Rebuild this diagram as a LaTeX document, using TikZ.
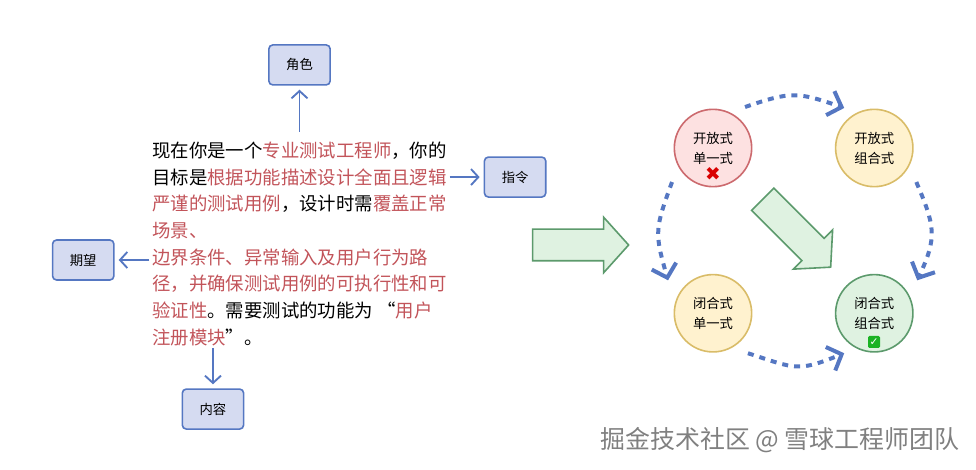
\documentclass[tikz,border=0pt]{standalone}
\usepackage{fontspec}
\usepackage{xcolor}
\setmainfont{Noto Sans CJK SC}
\newfontfamily\symfont{DejaVu Sans}
\usetikzlibrary{shapes.arrows, arrows.meta, positioning}
\definecolor{linkblue}{HTML}{5577C2}
\definecolor{boxfill}{HTML}{D5DBF1}
\definecolor{hotred}{HTML}{C2545A}
\definecolor{redline}{HTML}{CC6A6E}
\definecolor{redfill}{HTML}{FDE1E1}
\definecolor{yelline}{HTML}{D9BC68}
\definecolor{yelfill}{HTML}{FFF2CF}
\definecolor{grnline}{HTML}{5C9A6C}
\definecolor{grnfill}{HTML}{DFF2E1}
\definecolor{tickgreen}{HTML}{1BB324}

\begin{document}
\begin{tikzpicture}[
    x=0.75pt, y=-0.75pt,
    tagbox/.style={rectangle, draw=linkblue, fill=boxfill, line width=1.2pt, rounded corners=3pt, minimum width=46pt, minimum height=30pt, font=\fontsize{10}{12}\selectfont},
    mode/.style={circle, draw, line width=1.2pt, minimum size=58pt, inner sep=0pt, align=center, font=\fontsize{10}{15}\selectfont},
    lnk/.style={draw=linkblue, line width=1.4pt, -{Straight Barb[length=5.5pt,width=12pt,line width=1.4pt]}},
    dashlnk/.style={draw=linkblue, line width=3pt, dash pattern=on 4.5pt off 4.5pt, -{Straight Barb[length=9pt,width=19pt,line width=3pt]}},
    bigarr/.style={single arrow, draw=grnline, fill=grnfill, line width=1.2pt, inner sep=0pt, minimum height=72pt, minimum width=40pt, single arrow head extend=9pt, single arrow tip angle=96, text height=22.5pt, text depth=0pt, text width=0pt}
]
\useasboundingbox (0,0) rectangle (976,470);

% Prompt text
\node[align=left, inner xsep=2pt, inner ysep=0pt, minimum height=168pt, font=\fontsize{13.8}{20}\selectfont] (prompt) at (299.5,244) {%
现在你是一个\textcolor{hotred}{专业测试工程师}，你的\\
目标是\textcolor{hotred}{根据功能描述设计全面且逻辑}\\
\textcolor{hotred}{严谨的测试用例}，设计时需\textcolor{hotred}{覆盖正常}\\
\textcolor{hotred}{场景、}\\
\textcolor{hotred}{边界条件、异常输入及用户行为路}\\
\textcolor{hotred}{径，并确保测试用例的可执行性和可}\\
\textcolor{hotred}{验证性}。需要测试的功能为 “\textcolor{hotred}{用户}\\
\textcolor{hotred}{注册模块}”。};

% Tag boxes
\node[tagbox, above=34.5pt of prompt] (role) {角色};
\node[tagbox, right=25.5pt of prompt, yshift=50.2pt] (instr) {指令};
\node[tagbox, left=26pt of prompt, yshift=-12pt] (expect) {期望};
\node[tagbox, below=24pt of prompt, xshift=-64.9pt] (content) {内容};

% Mode circles
\node[mode, draw=redline, fill=redfill] (opensingle) at (713,148) {开放式\\单一式};
\node[mode, draw=yelline, fill=yelfill, right=61.75pt of opensingle] (opencombo) {开放式\\组合式};
\node[mode, draw=yelline, fill=yelfill, below=64.75pt of opensingle] (closesingle) {闭合式\\单一式};
\node[mode, draw=grnline, fill=grnfill, below=64.75pt of opencombo] (closecombo) {闭合式\\组合式};

% Marks
\node[font=\symfont\fontsize{14}{14}\selectfont, text=red!85!black, inner sep=0pt] (crossmark) at (713,174) {✖};
\node[fill=tickgreen, rounded corners=1pt, inner sep=0pt, minimum size=9pt, font=\symfont\fontsize{8}{8}\selectfont, text=white] (checkmark) at (874,342) {✓};

% Big arrows
\node[bigarr] (bigright) at (573.5,245) {};
\node[bigarr, rotate=-45] (bigdiag) at (791.7,228.2) {};

% Arrows
\draw[lnk, shorten >=3pt] (prompt.north -| role) -- (role);
\draw[lnk, shorten >=3pt] (prompt.east |- instr) -- (instr);
\draw[lnk, shorten >=3pt] (prompt.west |- expect) -- (expect);
\draw[lnk, shorten <=-6pt, shorten >=3pt] (prompt.south -| content) -- (content);
\draw[dashlnk] ([xshift=5.8pt,yshift=7.4pt]opensingle.52) to[out=19, in=161, looseness=1.27] ([xshift=-4.3pt,yshift=6.7pt]opencombo.128);
\draw[dashlnk] ([xshift=8.2pt,yshift=-7.3pt]opencombo.-38) to[out=-67, in=65, looseness=1.25] ([xshift=8.9pt,yshift=6.5pt]closecombo.38);
\draw[dashlnk] ([xshift=-7.4pt,yshift=-7.3pt]opensingle.218) to[out=250, in=106, looseness=1.3] ([xshift=-10.4pt,yshift=6.5pt]closesingle.142);
\draw[dashlnk] ([xshift=7.2pt,yshift=-7.3pt]closesingle.-50) to[out=-18, in=202, looseness=1.35] ([xshift=-3.5pt,yshift=-7.3pt]closecombo.230);

% Site mark
\node[text=black!50, font=\fontsize{18.7}{20}\selectfont, inner sep=0pt] (sitemark) at (780,440) {掘金技术社区 @ 雪球工程师团队};

\end{tikzpicture}
\end{document}
